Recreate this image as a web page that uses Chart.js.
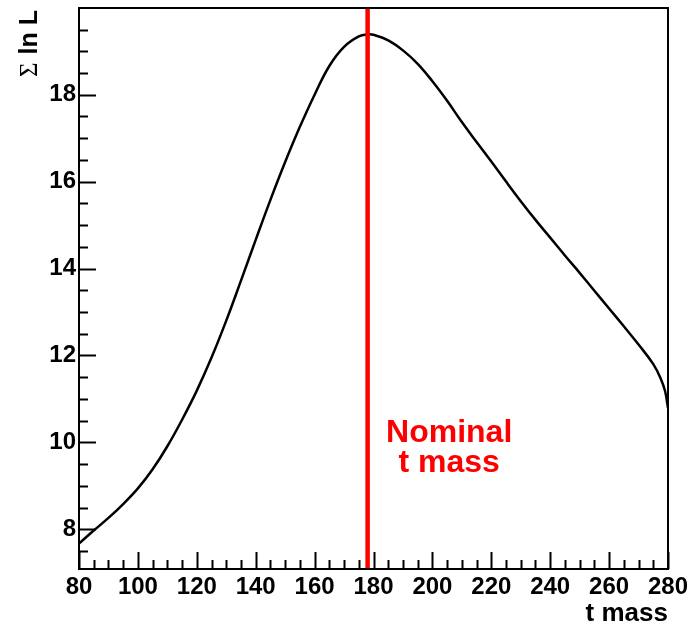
<!DOCTYPE html>
<html>
<head>
<meta charset="utf-8">
<title>Σ ln L vs t mass</title>
<script src="https://cdn.jsdelivr.net/npm/chart.js@4.4.1/dist/chart.umd.min.js"></script>
<style>
  html, body { margin: 0; padding: 0; background: #ffffff; }
  #wrap { width: 690px; height: 624px; }
</style>
</head>
<body>
<div id="wrap"><canvas id="c" width="690" height="624"></canvas></div>
<script>
// Scanned top-mass hypotheses and the summed log-likelihood at each
const massValues = [80, 85, 90, 95, 100, 105, 110, 115, 120, 125, 130, 135, 140, 145, 150,
  155, 160, 165, 170, 175, 178, 180, 185, 190, 195, 200, 205, 210, 215, 220, 225, 230,
  235, 240, 245, 250, 255, 260, 265, 270, 275, 277.5, 279, 280];
const lnLValues = [7.67, 7.97, 8.26, 8.58, 8.94, 9.38, 9.91, 10.52, 11.19, 11.95, 12.80, 13.72,
  14.66, 15.58, 16.45, 17.26, 18.00, 18.66, 19.10, 19.34, 19.39, 19.38, 19.25, 19.02, 18.71,
  18.31, 17.86, 17.37, 16.91, 16.46, 16.00, 15.55, 15.12, 14.71, 14.30, 13.90, 13.49, 13.08,
  12.67, 12.25, 11.80, 11.47, 11.18, 10.79];

// Reference (nominal) top mass
const nominalMass = 178;

// Axis ranges and labelled tick values
const xRange = [80, 280];
const yRange = [7.085, 19.995];
const xTickValues = [80, 100, 120, 140, 160, 180, 200, 220, 240, 260, 280];
const yTickValues = [8, 10, 12, 14, 16, 18];

const FONT = '"Liberation Sans", Arial, Helvetica, sans-serif';

// Frame, inward tick marks, axis titles and the red annotation
const framePlugin = {
  id: 'frame',
  afterDraw(chart) {
    const { ctx, chartArea: a, scales } = chart;
    const xs = scales.x, ys = scales.y;
    ctx.save();
    ctx.strokeStyle = '#000';
    ctx.lineWidth = 2;
    ctx.strokeRect(a.left, a.top, a.right - a.left, a.bottom - a.top);

    // x ticks: major every 20, minor every 5
    ctx.beginPath();
    for (let v = xRange[0]; v <= xRange[1] + 1e-9; v += 5) {
      const px = Math.round(xs.getPixelForValue(v)) + 0.5;
      const len = (v % 20 === 0) ? 17 : 9;
      ctx.moveTo(px, a.bottom);
      ctx.lineTo(px, a.bottom - len);
    }
    // y ticks: major every 2, minor every 0.5
    for (let v = 7.5; v <= yRange[1] + 1e-9; v += 0.5) {
      const py = Math.round(ys.getPixelForValue(v)) + 0.5;
      const len = (Math.abs(v % 2) < 1e-9) ? 17 : 9;
      ctx.moveTo(a.left, py);
      ctx.lineTo(a.left + len, py);
    }
    ctx.lineWidth = 2;
    ctx.stroke();

    // x-axis title
    ctx.fillStyle = '#000';
    ctx.font = 'bold 26px ' + FONT;
    ctx.textAlign = 'right';
    ctx.textBaseline = 'alphabetic';
    ctx.fillText('t mass', a.right, 621);

    // y-axis title, rotated, ending at the top of the frame
    ctx.save();
    ctx.translate(37, 10);
    ctx.rotate(-Math.PI / 2);
    ctx.textAlign = 'right';
    ctx.font = 'bold 25px ' + FONT;
    ctx.fillText('ln L', 0, 0);
    const w = ctx.measureText('ln L').width;
    ctx.font = '25px "Liberation Serif", "DejaVu Serif", serif';
    ctx.fillText('Σ', -w - 8, 0);
    ctx.restore();

    // annotation next to the nominal-mass line
    ctx.fillStyle = '#ff0000';
    ctx.font = 'bold 32px ' + FONT;
    ctx.textAlign = 'center';
    const cx = xs.getPixelForValue(205.7);
    ctx.fillText('Nominal', cx, ys.getPixelForValue(10.0));
    ctx.fillText('t mass', cx, ys.getPixelForValue(9.31));
    ctx.restore();
  }
};

const curve = massValues.map((m, i) => ({ x: m, y: lnLValues[i] }));
const nominalLine = [{ x: nominalMass, y: yRange[0] }, { x: nominalMass, y: yRange[1] }];

new Chart(document.getElementById('c'), {
  type: 'line',
  data: {
    datasets: [
      {
        label: 'Nominal t mass',
        data: nominalLine,
        borderColor: '#ff0000',
        borderWidth: 4.5,
        pointRadius: 0,
        tension: 0
      },
      {
        label: 'Σ ln L',
        data: curve,
        borderColor: '#000000',
        borderWidth: 2.5,
        pointRadius: 0,
        tension: 0.4
      }
    ]
  },
  options: {
    responsive: false,
    animation: false,
    events: [],
    layout: { padding: { top: 8, right: 22, left: 0, bottom: 0 } },
    plugins: { legend: { display: false }, tooltip: { enabled: false } },
    scales: {
      x: {
        type: 'linear',
        min: xRange[0],
        max: xRange[1],
        grid: { display: false, drawTicks: false },
        border: { display: false },
        afterBuildTicks(scale) { scale.ticks = xTickValues.map(v => ({ value: v })); },
        afterFit(scale) {
          scale.height = 55;
          scale.paddingLeft = 0;
          scale.paddingRight = 0;
        },
        ticks: {
          color: '#000',
          font: { family: FONT, size: 24, weight: 'bold' },
          padding: 4,
          maxRotation: 0,
          autoSkip: false,
          callback: v => String(v)
        }
      },
      y: {
        type: 'linear',
        min: yRange[0],
        max: yRange[1],
        grid: { display: false, drawTicks: false },
        border: { display: false },
        afterBuildTicks(scale) { scale.ticks = yTickValues.map(v => ({ value: v })); },
        afterFit(scale) {
          scale.width = 79;
          scale.paddingTop = 0;
          scale.paddingBottom = 0;
        },
        ticks: {
          color: '#000',
          font: { family: FONT, size: 24, weight: 'bold' },
          padding: 3,
          autoSkip: false,
          callback: v => String(v)
        }
      }
    }
  },
  plugins: [framePlugin]
});
</script>
</body>
</html>
